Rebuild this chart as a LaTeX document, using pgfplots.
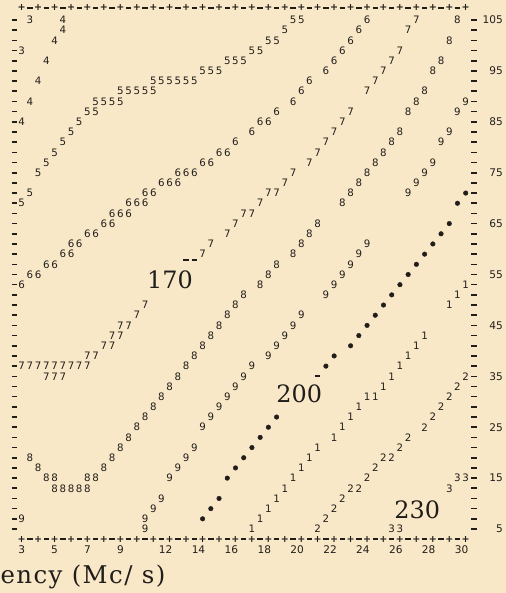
\documentclass[border=0pt]{standalone}
\usepackage{fontspec}
\usepackage{pgfplots}
\pgfplotsset{compat=1.18}
\newfontfamily\pr{DejaVu Sans}
\newfontfamily\lb{DejaVu Serif}
\newfontfamily\ttl[LetterSpace=6]{DejaVu Serif}
\definecolor{paper}{RGB}{249,232,200}
\definecolor{ink}{RGB}{32,29,26}
\pgfplotsset{
  ch/.style={draw=none, mark=none, nodes near coords={#1},
    every node near coord/.append style={anchor=center, inner sep=0pt, text=ink,
      font=\pr\fontsize{10.3}{11}\selectfont}},
}
\tikzset{
  pl/.style={anchor=center, inner sep=0pt, text=ink, font=\pr\bfseries\fontsize{9.6}{10}\selectfont},
  tk/.style={anchor=center, inner sep=0pt, text=ink, font=\pr\fontsize{10.6}{11}\selectfont},
}
\newcommand\dsh{\rule{5.5bp}{1.6bp}}
\begin{document}
\begin{tikzpicture}
\begin{axis}[
  width=506bp, height=593bp, scale only axis,
  xmin=1.68, xmax=32.45, ymin=-7.57, ymax=108.93,
  axis line style={draw=none}, ticks=none,
  axis background/.style={fill=paper},
  clip=false,
]
% printer border
\pgfplotsinvokeforeach{3,...,30}{
  \node[pl] at (axis cs:#1,107.36) {+};
  \node[pl] at (axis cs:#1,3) {+};
}
\pgfplotsinvokeforeach{3,...,29}{
  \node[pl] at (axis cs:#1.5,107.36) {\dsh};
  \node[pl] at (axis cs:#1.5,3) {\dsh};
}
\pgfplotsinvokeforeach{5,7,...,105}{
  \node[pl] at (axis cs:2.55,#1) {\dsh};
  \node[pl] at (axis cs:30.5,#1) {\dsh};
}
\pgfplotsinvokeforeach{5,15,...,105}{
  \node[tk, anchor=east] at (axis cs:32.27,#1) {#1};
}
\pgfplotsinvokeforeach{3,5,7,9}{
  \node[tk] at (axis cs:#1,1) {#1};
}
\pgfplotsinvokeforeach{12,14,...,30}{
  \node[tk] at (axis cs:{#1-0.25},1) {#1};
}

% contour characters
\addplot[ch=3] coordinates {(3.5,105) (3,99) (29.5,15) (30,15) (29,13) (25.5,5) (26,5)};
\addplot[ch=4] coordinates {(5.5,105) (5.5,103) (5,101) (4.5,97) (4,93) (3.5,89) (3,85)};
\addplot[ch=5] coordinates {
 (19.5,105)(20,105) (19,103) (18,101)(18.5,101) (17,99)(17.5,99)
 (15.5,97)(16,97)(16.5,97) (14,95)(14.5,95)(15,95)
 (11,93)(11.5,93)(12,93)(12.5,93)(13,93)(13.5,93)
 (9,91)(9.5,91)(10,91)(10.5,91)(11,91)
 (7.5,89)(8,89)(8.5,89)(9,89) (7,87)(7.5,87)
 (6.5,85) (6,83) (5.5,81) (5,79) (4.5,77) (4,75) (3.5,71) (3,69)};
\addplot[ch=6] coordinates {
 (24,105) (23.5,103) (23,101) (22.5,99) (22,97) (21.5,95) (20.5,93) (20,91)
 (19.5,89) (18.5,87) (17.5,85)(18,85) (17,83) (16,81) (15,79)(15.5,79)
 (14,77)(14.5,77) (12.5,75)(13,75)(13.5,75) (11.5,73)(12,73)(12.5,73)
 (10.5,71)(11,71) (9.5,69)(10,69)(10.5,69) (8.5,67)(9,67)(9.5,67)
 (8,65)(8.5,65) (7,63)(7.5,63) (6,61)(6.5,61) (5.5,59)(6,59)
 (4.5,57)(5,57) (3.5,55)(4,55) (3,53)};
\addplot[ch=7] coordinates {
 (27,105) (26.5,103) (26,99) (25.5,97) (25,95) (24.5,93) (24,91) (23,87)
 (22.5,85) (22,83) (21.5,81) (21,79) (20.5,77) (19.5,75) (19,73)
 (18,71)(18.5,71) (17.5,69) (16.5,67)(17,67) (16,65) (15.5,63) (14.5,61) (14,59)
 (10.5,49) (10,47) (9,45)(9.5,45) (8.5,43)(9,43) (8,41)(8.5,41) (7,39)(7.5,39)
 (3,37)(3.5,37)(4,37)(4.5,37)(5,37)(5.5,37)(6,37)(6.5,37)(7,37)
 (4.5,35)(5,35)(5.5,35)};
\addplot[ch=8] coordinates {
 (29.5,105) (29,101) (28.5,97) (28,95) (27.5,91) (27,89) (26.5,87) (26,83)
 (25.5,81) (25,79) (24.5,77) (24,75) (23.5,73) (23,71) (22.5,69) (21,65)
 (20.5,63) (20,61) (19.5,59) (18.5,57) (18,55) (17.5,53) (16.5,51) (16,49)
 (15.5,47) (15,45) (14.5,43) (14,41) (13.5,39) (13,37) (12.5,35) (12,33)
 (11.5,31) (11,29) (10.5,27) (10,25) (9.5,23) (9,21) (8.5,19) (3.5,19)
 (8,17) (4,17) (7,15)(7.5,15) (4.5,15)(5,15) (5,13)(5.5,13)(6,13)(6.5,13)(7,13)};
\addplot[ch=9] coordinates {
 (30,89) (29.5,87) (29,83) (28.5,81) (28,77) (27.5,75) (27,73) (26.5,71)
 (24,61) (23.5,59) (23,57) (22.5,55) (22,53) (21.5,51) (20,47) (19.5,45)
 (19,43) (18.5,41) (18,39) (17,37) (16.5,35) (16,33) (15.5,31) (15,29)
 (14.5,27) (14,25) (13.5,21) (13,19) (12.5,17) (12,15) (11.5,11) (11,9)
 (10.5,7) (3,7) (10.5,5)};
\addplot[ch=1] coordinates {
 (30,53) (29.5,51) (29,49) (27.5,43) (27,41) (26.5,39) (26,37) (25.5,35)
 (25,33) (24,31)(24.5,31) (23.5,29) (23,27) (22.5,25) (22,23) (21,21)
 (20.5,19) (20,17) (19.5,15) (19,13) (18.5,11) (18,9) (17.5,7) (17,5)};
\addplot[ch=2] coordinates {
 (30,35) (29.5,33) (29,31) (28.5,29) (28,27) (27.5,25) (26.5,23) (26,21)
 (25,19)(25.5,19) (24.5,17) (24,15) (23,13)(23.5,13) (22.5,11) (22,9)
 (21.5,7) (21,5)};
\addplot[ch=\dsh] coordinates {(13,57.8) (13.5,57.8) (21,35.1)};
\addplot[only marks, mark=*, mark size=2.3bp, color=ink] coordinates {
 (30,71) (29.5,69) (29,65) (28.5,63) (28,61) (27.5,59) (27,57) (26.5,55)
 (26,53) (25.5,51) (25,49) (24.5,47) (24,45) (23.5,43) (23,41) (22,39)
 (21.5,37) (18.5,27) (18,25) (17.5,23) (17,21) (16.5,19) (16,17) (15.5,15)
 (15,11) (14.5,9) (14,7)};

% level labels
\addplot[draw=none, mark=none, nodes near coords, point meta=explicit symbolic,
  every node near coord/.append style={anchor=center, inner sep=0pt, text=ink,
    font=\lb\fontsize{24}{24}\selectfont}]
  table[meta=t] {
x y t
12.02 53.9 170
19.88 31.56 200
27.05 8.83 230
};
\node[anchor=base west, inner sep=0pt, text=ink, font=\ttl\fontsize{24.5}{25}\selectfont]
  at (axis cs:1.7,-5.8) {ency (Mc/ s)};
\end{axis}
\end{tikzpicture}
\end{document}
